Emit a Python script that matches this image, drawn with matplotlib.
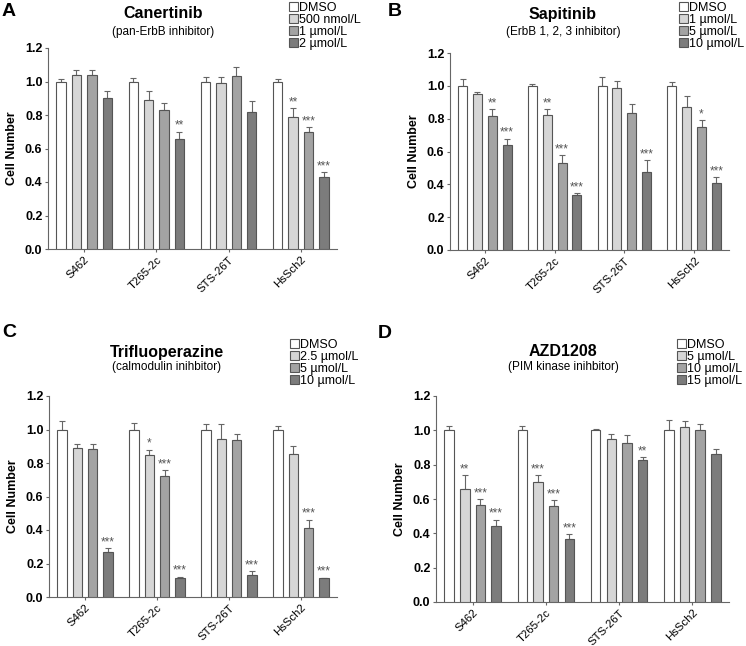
import numpy as np
import matplotlib
matplotlib.use("Agg")
import matplotlib.pyplot as plt

plt.rcParams['font.family'] = ['Liberation Sans', 'DejaVu Sans']

cell_lines = ["S462", "T265-2c", "STS-26T", "HsSch2"]
bar_colors = ["#ffffff", "#d6d6d6", "#a3a3a3", "#7c7c7c"]

# Panel A: Canertinib
a_labels = ["DMSO", "500 nmol/L", "1 µmol/L", "2 µmol/L"]
a_vals = [[1.00, 1.04, 1.04, 0.904],
          [1.00, 0.89, 0.83, 0.655],
          [1.00, 0.99, 1.035, 0.815],
          [1.00, 0.786, 0.70, 0.428]]
a_err = [[0.012, 0.03, 0.026, 0.042],
         [0.02, 0.056, 0.04, 0.046],
         [0.028, 0.036, 0.05, 0.07],
         [0.014, 0.054, 0.026, 0.03]]
a_sig = [["", "", "", ""], ["", "", "", "**"], ["", "", "", ""], ["", "**", "***", "***"]]

# Panel B: Sapitinib
b_labels = ["DMSO", "1 µmol/L", "5 µmol/L", "10 µmol/L"]
b_vals = [[1.00, 0.948, 0.818, 0.639],
          [1.00, 0.82, 0.529, 0.336],
          [1.00, 0.986, 0.834, 0.476],
          [1.00, 0.870, 0.752, 0.411]]
b_err = [[0.041, 0.014, 0.04, 0.04],
         [0.011, 0.038, 0.049, 0.01],
         [0.051, 0.045, 0.053, 0.071],
         [0.025, 0.07, 0.037, 0.032]]
b_sig = [["", "", "**", "***"], ["", "**", "***", "***"], ["", "", "", "***"], ["", "", "*", "***"]]

# Panel C: Trifluoperazine
c_labels = ["DMSO", "2.5 µmol/L", "5 µmol/L", "10 µmol/L"]
c_vals = [[1.00, 0.891, 0.883, 0.268],
          [1.00, 0.845, 0.72, 0.111],
          [1.00, 0.946, 0.935, 0.131],
          [1.00, 0.851, 0.409, 0.113]]
c_err = [[0.052, 0.024, 0.028, 0.024],
         [0.038, 0.034, 0.038, 0.01],
         [0.03, 0.086, 0.041, 0.024],
         [0.022, 0.048, 0.053, 0.003]]
c_sig = [["", "", "", "***"], ["", "*", "***", "***"], ["", "", "", "***"], ["", "", "***", "***"]]

# Panel D: AZD1208
d_labels = ["DMSO", "5 µmol/L", "10 µmol/L", "15 µmol/L"]
d_vals = [[1.00, 0.66, 0.563, 0.441],
          [1.00, 0.70, 0.557, 0.368],
          [1.00, 0.952, 0.929, 0.828],
          [1.00, 1.019, 1.00, 0.865]]
d_err = [[0.025, 0.077, 0.035, 0.039],
         [0.023, 0.037, 0.035, 0.027],
         [0.01, 0.029, 0.043, 0.014],
         [0.06, 0.035, 0.035, 0.029]]
d_sig = [["", "**", "***", "***"], ["", "***", "***", "***"], ["", "", "", "**"], ["", "", "", ""]]

panels = [
    dict(letter="A", title="Canertinib", sub="(pan-ErbB inhibitor)", labels=a_labels, vals=a_vals, err=a_err, sig=a_sig,
         rect=[48/746, 1-249/646, 289/746, 201/646], letter_xy=(2, 11), title_xy=(163, 14), sub_xy=(163, 32), leg_xy=(289, 2)),
    dict(letter="B", title="Sapitinib", sub="(ErbB 1, 2, 3 inhibitor)", labels=b_labels, vals=b_vals, err=b_err, sig=b_sig,
         rect=[450/746, 1-250/646, 279/746, 197/646], letter_xy=(388, 11), title_xy=(563, 14), sub_xy=(563, 32), leg_xy=(679, 2)),
    dict(letter="C", title="Trifluoperazine", sub="(calmodulin inihbitor)", labels=c_labels, vals=c_vals, err=c_err, sig=c_sig,
         rect=[49/746, 1-597/646, 288/746, 201/646], letter_xy=(2, 332), title_xy=(167, 352), sub_xy=(167, 367), leg_xy=(290, 339)),
    dict(letter="D", title="AZD1208", sub="(PIM kinase inihbitor)", labels=d_labels, vals=d_vals, err=d_err, sig=d_sig,
         rect=[436/746, 1-602/646, 293/746, 206/646], letter_xy=(378, 334), title_xy=(563, 352), sub_xy=(563, 367), leg_xy=(677, 339)),
]

fig = plt.figure(figsize=(7.46, 6.46), dpi=100)
W, H = 746, 646
edge = "#555555"
step = 0.213
bw = 0.13
x = np.arange(len(cell_lines))

for p in panels:
    ax = fig.add_axes(p["rect"])
    vals = np.array(p["vals"])
    err = np.array(p["err"])
    handles = []
    for j in range(4):
        xs = x + (j - 1.5) * step
        h = ax.bar(xs, vals[:, j], width=bw, color=bar_colors[j], edgecolor=edge, linewidth=0.8,
                   label=p["labels"][j], zorder=3)
        handles.append(h)
        ax.errorbar(xs, vals[:, j], yerr=[np.zeros(4), err[:, j]], fmt='none', ecolor="#666666",
                    elinewidth=0.8, capsize=2.5, capthick=0.8, zorder=2)
        for i in range(4):
            s = p["sig"][i][j]
            if s:
                ax.text(xs[i], vals[i, j] + err[i, j], s, ha='center', va='bottom',
                        fontsize=8.5, color="#555555")
    ax.set_xlim(-0.5, 3.5)
    ax.set_ylim(0, 1.2)
    ax.set_yticks(np.arange(0, 1.21, 0.2))
    ax.set_yticklabels([f"{v:.1f}" for v in np.arange(0, 1.21, 0.2)], fontsize=9, fontweight='bold')
    ax.set_xticks(x)
    ax.set_xticklabels(cell_lines, rotation=45, ha='right', rotation_mode='anchor', fontsize=8.2)
    ax.tick_params(axis='x', length=2.5, width=0.8, color="#666666", pad=1.5)
    ax.tick_params(axis='y', length=2, width=0.8, color="#666666", pad=2)
    for s in ["top", "right"]:
        ax.spines[s].set_visible(False)
    for s in ["left", "bottom"]:
        ax.spines[s].set_color("#666666")
        ax.spines[s].set_linewidth(0.8)
    ax.set_ylabel("Cell Number", fontsize=9, fontweight='bold', labelpad=5)
    ax.legend(handles=handles, loc='upper left',
              bbox_to_anchor=(p["leg_xy"][0]/W, 1 - p["leg_xy"][1]/H), bbox_transform=fig.transFigure,
              frameon=False, fontsize=9, handlelength=0.7, handleheight=0.7, handletextpad=0.12,
              labelspacing=0.0, borderpad=0, borderaxespad=0)
    fig.text(p["letter_xy"][0]/W, 1 - p["letter_xy"][1]/H, p["letter"], fontsize=14, fontweight='bold',
             ha='left', va='center')
    fig.text(p["title_xy"][0]/W, 1 - p["title_xy"][1]/H, p["title"], fontsize=11.5, fontweight='bold',
             ha='center', va='center')
    fig.text(p["sub_xy"][0]/W, 1 - p["sub_xy"][1]/H, p["sub"], fontsize=8.5, ha='center', va='center')

fig.savefig("out.png", dpi=100)
